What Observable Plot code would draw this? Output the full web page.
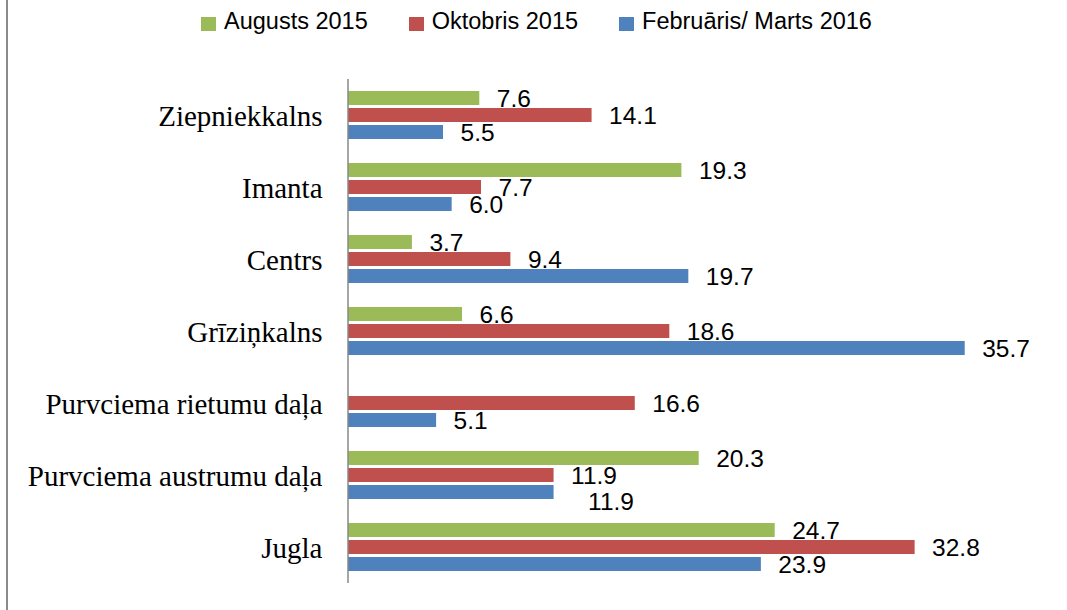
<!DOCTYPE html>
<html><head><meta charset="utf-8">
<script src="https://cdn.jsdelivr.net/npm/d3@7"></script>
<script src="https://cdn.jsdelivr.net/npm/@observablehq/plot@0.6"></script>
<style>
body{margin:0;background:#fff;}
#wrap{position:relative;width:1067px;height:610px;overflow:hidden;background:#fff;}
#border{position:absolute;left:6px;top:0;width:2px;height:610px;background:#8a8a8a;}
#chart{position:absolute;left:0;top:0;}
#legend{position:absolute;left:201px;top:8px;display:flex;align-items:center;gap:41px;font-family:"Liberation Sans",Arial,sans-serif;font-size:23.5px;line-height:normal;color:#000;white-space:nowrap;}
.item{display:flex;align-items:center;gap:8px;}
.sw{width:15px;height:14px;position:relative;top:2px;}
</style></head>
<body><div id="wrap"><div id="border"></div><div id="chart"></div><div id="legend"></div></div>
<script>
const categories = ["Ziepniekkalns","Imanta","Centrs","Grīziņkalns","Purvciema rietumu daļa","Purvciema austrumu daļa","Jugla"];
const seriesNames = ["Augusts 2015","Oktobris 2015","Februāris/ Marts 2016"];
const colors = ["#9BBB59","#C0504D","#4F81BD"];
const aug = [7.6, 19.3, 3.7, 6.6, null, 20.3, 24.7];
const okt = [14.1, 7.7, 9.4, 18.6, 16.6, 11.9, 32.8];
const feb = [5.5, 6.0, 19.7, 35.7, 5.1, 11.9, 23.9];

const data = [];
categories.forEach((c, i) => {
  const arrs = [aug, okt, feb];
  arrs.forEach((arr, j) => {
    if (arr[i] != null) {
      const prev = j > 0 ? arrs[j - 1][i] : null;
      // label collides with the label just above it when bar ends coincide
      const crowded = prev != null && Math.abs(prev - arr[i]) < 1;
      data.push({category: c, series: seriesNames[j], value: arr[i], crowded});
    }
  });
});
const fmt = d3.format(".1f");
const labelFont = {fontSize: 24.5, fontFamily: "Liberation Sans, Arial, sans-serif", fill: "#000", textAnchor: "start"};

const chart = Plot.plot({
  width: 1067, height: 610,
  marginTop: 76, marginBottom: 25, marginLeft: 348, marginRight: 28,
  x: {domain: [0, 40], axis: null},
  y: {domain: seriesNames, axis: null, paddingInner: 0.2, paddingOuter: 0.62},
  fy: {domain: categories, padding: 0, axis: null},
  color: {domain: seriesNames, range: colors},
  style: {background: "transparent"},
  marks: [
    Plot.barX(data, {x: "value", y: "series", fy: "category", fill: "series"}),
    Plot.ruleX([0], {stroke: "#888888", strokeWidth: 1.5, dx: -0.5}),
    Plot.text(data.filter(d => !d.crowded), {x: "value", y: "series", fy: "category", text: d => fmt(d.value), dx: 17, dy: 1, ...labelFont}),
    Plot.text(data.filter(d => d.crowded), {x: "value", y: "series", fy: "category", text: d => fmt(d.value), dx: 34, dy: 10, ...labelFont}),
    Plot.text(categories, {fy: d => d, x: 0, text: d => d, textAnchor: "end", dx: -26, dy: 1, fontSize: 29, fontFamily: "Liberation Serif, Times New Roman, serif", fill: "#000"})
  ]
});
document.getElementById("chart").appendChild(chart);

const legend = document.getElementById("legend");
seriesNames.forEach((s, i) => {
  const item = document.createElement("div");
  item.className = "item";
  const sw = document.createElement("div");
  sw.className = "sw";
  sw.style.background = colors[i];
  const t = document.createElement("span");
  t.textContent = s;
  item.appendChild(sw); item.appendChild(t);
  legend.appendChild(item);
});
</script>
</body></html>
